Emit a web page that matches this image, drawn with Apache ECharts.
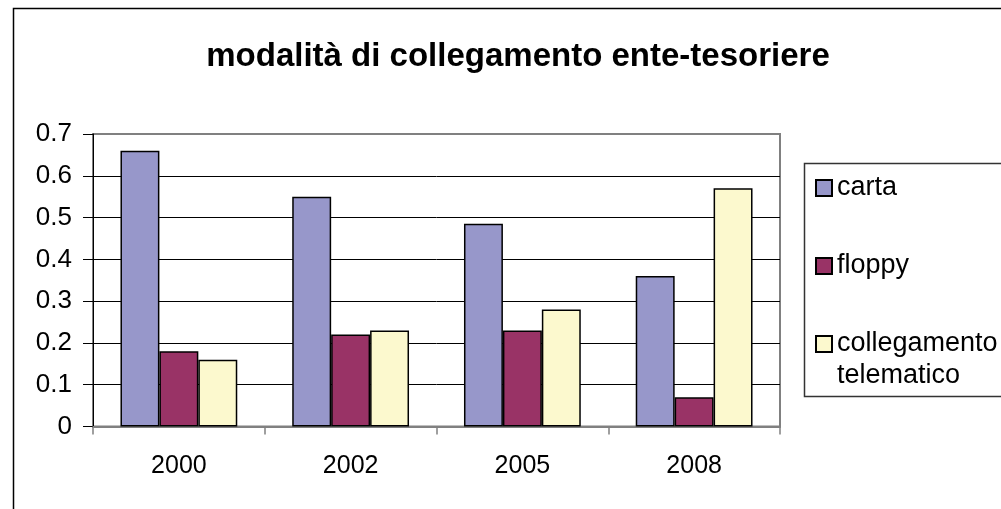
<!DOCTYPE html>
<html>
<head>
<meta charset="utf-8">
<script src="https://cdn.jsdelivr.net/npm/echarts@6/dist/echarts.min.js"></script>
<style>
  html, body { margin: 0; padding: 0; background: #fff; }
  #chart { width: 1001px; height: 509px; }
</style>
</head>
<body>
<div id="chart"></div>
<script>
// dati
const anni = ['2000', '2002', '2005', '2008'];
const carta = [0.66, 0.55, 0.485, 0.36];
const floppy = [0.18, 0.22, 0.23, 0.07];
const telematico = [0.16, 0.23, 0.28, 0.57];
const yTicks = ['0', '0.1', '0.2', '0.3', '0.4', '0.5', '0.6', '0.7'];

const font = '"Liberation Sans", Arial, sans-serif';
const chart = echarts.init(document.getElementById('chart'));

const barBorder = { borderColor: '#000', borderWidth: 1.5 };
const legendText = { color: '#000', fontSize: 27, fontFamily: font, lineHeight: 32 };

const option = {
  animation: false,
  backgroundColor: '#fff',
  title: {
    text: 'modalità di collegamento ente-tesoriere',
    left: 513,
    top: 35,
    textAlign: 'center',
    textStyle: { color: '#000', fontSize: 33, fontWeight: 'bold', fontFamily: font }
  },
  // bordo esterno e riquadro della legenda
  graphic: [
    {
      type: 'rect', z: -10, silent: true,
      shape: { x: 13.5, y: 8.5, width: 1000, height: 520 },
      style: { fill: 'none', stroke: '#000', lineWidth: 1.5 }
    },
    {
      type: 'rect', z: -10, silent: true,
      shape: { x: 804.5, y: 163.5, width: 220, height: 233 },
      style: { fill: '#fff', stroke: '#333', lineWidth: 1.5 }
    }
  ],
  legend: [
    {
      data: ['carta'], left: 815, top: 172, padding: 0, selectedMode: false,
      icon: 'rect', itemWidth: 16, itemHeight: 16, textStyle: legendText
    },
    {
      data: ['floppy'], left: 815, top: 250, padding: 0, selectedMode: false,
      icon: 'rect', itemWidth: 16, itemHeight: 16, textStyle: legendText
    },
    {
      // riga vuota in testa: così l'icona resta allineata alla prima riga
      data: ['collegamento telematico'], left: 815, top: 296, padding: 0, selectedMode: false,
      icon: 'rect', itemWidth: 16, itemHeight: 16,
      formatter: () => ' \ncollegamento\ntelematico',
      textStyle: legendText
    }
  ],
  grid: {
    left: 93, top: 134, right: 221, bottom: 82.5,
    show: true, borderColor: '#808080', borderWidth: 2, backgroundColor: '#fff'
  },
  xAxis: {
    type: 'category',
    data: anni,
    axisLine: { lineStyle: { color: '#808080', width: 2 } },
    axisTick: { show: true, length: 8, lineStyle: { color: '#808080', width: 1.5 } },
    axisLabel: { color: '#000', fontSize: 25, fontFamily: font, margin: 27 },
    splitLine: { show: false }
  },
  yAxis: {
    type: 'value',
    min: 0, max: 0.7, interval: 0.1,
    axisLine: { show: true, lineStyle: { color: '#000', width: 1 } },
    axisTick: { show: true, length: 10, lineStyle: { color: '#000' } },
    axisLabel: {
      color: '#000', fontSize: 26, fontFamily: font, margin: 21,
      formatter: (v) => yTicks[Math.round(v * 10)]
    },
    splitLine: {
      show: true,
      lineStyle: { color: ['#808080', '#000', '#000', '#000', '#000', '#000', '#000', '#808080'], width: 1 }
    }
  },
  series: [
    {
      name: 'carta', type: 'bar', data: carta,
      barGap: '0%', barCategoryGap: '32%',
      itemStyle: Object.assign({ color: '#9797CA' }, barBorder)
    },
    {
      name: 'floppy', type: 'bar', data: floppy,
      itemStyle: Object.assign({ color: '#993366' }, barBorder)
    },
    {
      name: 'collegamento telematico', type: 'bar', data: telematico,
      itemStyle: Object.assign({ color: '#FCF9CE' }, barBorder)
    }
  ]
};

chart.setOption(option);
</script>
</body>
</html>
